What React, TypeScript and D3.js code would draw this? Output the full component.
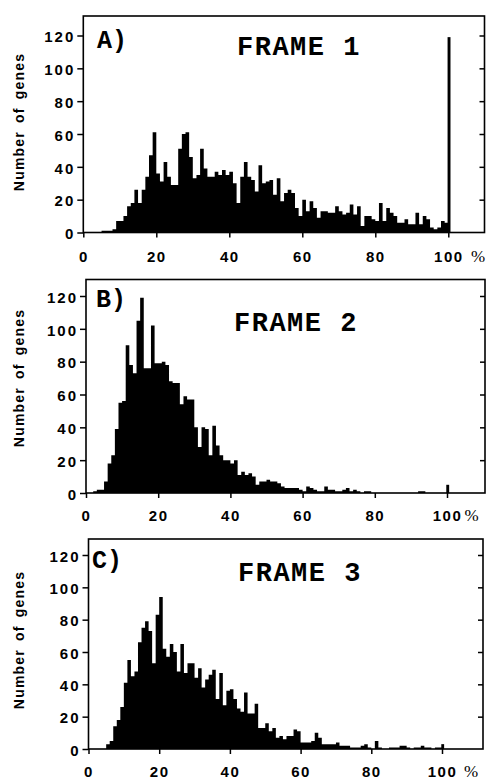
import React, { useEffect, useRef } from 'react';
import * as d3 from 'd3';

// counts per 1% bin (0..99); the 100% bin is kept apart
const frame1Counts = [
  0, 0, 0, 0, 0, 1, 1, 1, 2, 7,
  7, 10, 16, 18, 26, 18, 26, 34, 47, 61,
  36, 31, 43, 34, 29, 29, 51, 60, 61, 46,
  33, 35, 51, 39, 34, 34, 37, 35, 38, 35,
  37, 30, 18, 34, 43, 34, 32, 25, 41, 30,
  31, 32, 23, 33, 19, 24, 26, 24, 15, 10,
  20, 13, 19, 15, 9, 13, 13, 12, 12, 16,
  13, 11, 12, 17, 11, 16, 4, 10, 10, 8,
  7, 18, 7, 15, 12, 10, 6, 6, 8, 5,
  5, 12, 5, 10, 8, 3, 2, 3, 7, 6,
];
const frame1Full = 119;

const frame2Counts = [
  0, 0, 1, 2, 2, 7, 18, 23, 39, 55,
  56, 90, 78, 73, 105, 119, 76, 76, 102, 79,
  79, 80, 78, 68, 67, 67, 54, 59, 57, 57,
  40, 28, 40, 39, 23, 41, 29, 23, 20, 20,
  18, 20, 11, 13, 11, 12, 10, 5, 7, 7,
  8, 7, 7, 6, 4, 3, 3, 3, 3, 2,
  1, 4, 3, 2, 1, 1, 4, 2, 2, 1,
  1, 2, 3, 1, 2, 1, 0, 1, 1, 0,
  0, 0, 0, 0, 0, 0, 0, 0, 0, 0,
  0, 0, 1, 1, 0, 0, 0, 0, 0, 0,
];
const frame2Full = 5;

const frame3Counts = [
  0, 0, 0, 0, 0, 3, 5, 14, 18, 26,
  41, 55, 45, 48, 66, 75, 79, 73, 53, 83,
  94, 62, 57, 65, 60, 48, 65, 47, 53, 53,
  44, 50, 38, 43, 46, 49, 31, 47, 27, 36,
  37, 31, 25, 23, 35, 22, 22, 28, 13, 13,
  16, 11, 13, 7, 8, 6, 8, 8, 12, 11,
  4, 4, 4, 5, 10, 7, 3, 3, 3, 3,
  4, 2, 2, 2, 1, 1, 1, 2, 3, 1,
  0, 5, 1, 0, 0, 1, 1, 1, 2, 2,
  1, 0, 1, 1, 2, 1, 1, 0, 1, 1,
];
const frame3Full = 3;

const yTicks = [0, 20, 40, 60, 80, 100, 120];
const xTicks = [0, 20, 40, 60, 80, 100];
const panelLetters = ['A)', 'B)', 'C)'];
const frameTitles = ['FRAME 1', 'FRAME 2', 'FRAME 3'];
const yTitle = 'Number of genes';

const W = 486;
const H = 780;

// where each panel sits on the page
const panels = [
  { counts: frame1Counts, full: frame1Full, x0: 83.3, x100: 448.3, right: 484.5, top: 16, y0: 232.5, y120: 35.5,
    letter: [97, 47.5], title: [237, 55], yTitleY: 122, labelDy: 29.5, pctX: 478 },
  { counts: frame2Counts, full: frame2Full, x0: 86, x100: 447, right: 485, top: 279.5, y0: 493, y120: 296,
    letter: [96, 307], title: [234, 331], yTitleY: 378, labelDy: 27.5, pctX: 471.5 },
  { counts: frame3Counts, full: frame3Full, x0: 88.5, x100: 442, right: 483, top: 539, y0: 749, y120: 555,
    letter: [92, 568], title: [238, 580.5], yTitleY: 640, labelDy: 27.5, pctX: 471 },
];

const numFont = "'Liberation Sans', Arial, sans-serif";
const monoFont = "'Liberation Mono', 'Courier New', monospace";

const App = () => {
  const svgRef = useRef(null);

  useEffect(() => {
    const svg = d3.select(svgRef.current);
    svg.selectAll('*').remove();

    svg.append('rect').attr('width', W).attr('height', H).attr('fill', '#fff');

    panels.forEach((p, k) => {
      const x = d3.scaleLinear().domain([0, 100]).range([p.x0, p.x100]);
      const y = d3.scaleLinear().domain([0, 120]).range([p.y0, p.y120]);
      const g = svg.append('g');

      // histogram as one stepped silhouette, so neighbouring bins do not show seams
      const bins = p.counts.map((v, i) => ({ i, v }));
      bins.push({ i: 100, v: p.counts[p.counts.length - 1] });
      const area = d3.area()
        .x(d => x(d.i))
        .y0(y(0))
        .y1(d => y(d.v))
        .curve(d3.curveStepAfter);
      g.append('path').datum(bins).attr('d', area).attr('fill', '#000');

      // the 100% bin, drawn thin
      g.append('rect')
        .attr('x', x(99.8))
        .attr('width', x(100.6) - x(99.8))
        .attr('y', y(p.full))
        .attr('height', y(0) - y(p.full))
        .attr('fill', '#000');

      // frame
      g.append('rect')
        .attr('x', p.x0)
        .attr('y', p.top)
        .attr('width', p.right - p.x0)
        .attr('height', p.y0 - p.top)
        .attr('fill', 'none')
        .attr('stroke', '#000')
        .attr('stroke-width', 1.6);

      // left axis
      const left = g.append('g')
        .attr('transform', `translate(${p.x0},0)`)
        .call(d3.axisLeft(y).tickValues(yTicks).tickSize(6).tickPadding(2));
      left.select('.domain').remove();
      left.attr('font-family', numFont).attr('font-size', 15).attr('font-weight', 'bold');
      left.selectAll('line').attr('stroke-width', 1.5);
      left.selectAll('text').attr('dy', '0.42em').style('letter-spacing', '2px');

      // inward ticks on the right edge
      const rightAx = g.append('g')
        .attr('transform', `translate(${p.right},0)`)
        .call(d3.axisLeft(y).tickValues(yTicks.slice(1)).tickSize(5).tickFormat(() => ''));
      rightAx.select('.domain').remove();
      rightAx.selectAll('line').attr('stroke-width', 1.5);

      // bottom axis
      const bottom = g.append('g')
        .attr('transform', `translate(0,${p.y0})`)
        .call(d3.axisBottom(x).tickValues(xTicks).tickSize(5));
      bottom.select('.domain').remove();
      bottom.attr('font-family', numFont).attr('font-size', 15).attr('font-weight', 'bold');
      bottom.selectAll('line').attr('stroke-width', 1.5);
      bottom.selectAll('text').attr('y', p.labelDy).attr('dy', 0).style('letter-spacing', '1.5px');

      g.append('text')
        .attr('x', p.pctX)
        .attr('y', p.y0 + p.labelDy)
        .attr('text-anchor', 'middle')
        .style('font-family', "'Liberation Serif', 'Times New Roman', serif")
        .style('font-size', '17px')
        .text('%');

      // y axis title
      g.append('text')
        .attr('transform', `translate(24,${p.yTitleY}) rotate(-90)`)
        .attr('text-anchor', 'middle')
        .style('font-family', numFont)
        .style('font-size', '14px')
        .style('font-weight', 'bold')
        .style('letter-spacing', '1.2px')
        .style('word-spacing', '3px')
        .text(yTitle);

      // panel letter and title
      g.append('text')
        .attr('x', p.letter[0])
        .attr('y', p.letter[1])
        .style('font-family', monoFont)
        .style('font-size', '25px')
        .style('font-weight', 'bold')
        .text(panelLetters[k]);

      g.append('text')
        .attr('x', p.title[0])
        .attr('y', p.title[1])
        .style('font-family', monoFont)
        .style('font-size', '27px')
        .style('font-weight', 'bold')
        .style('letter-spacing', '1.5px')
        .text(frameTitles[k]);
    });
  }, []);

  return (
    <div style={{ position: 'absolute', left: 0, top: 0 }}>
      <svg ref={svgRef} width={W} height={H} style={{ display: 'block' }} />
    </div>
  );
};

export default App;
